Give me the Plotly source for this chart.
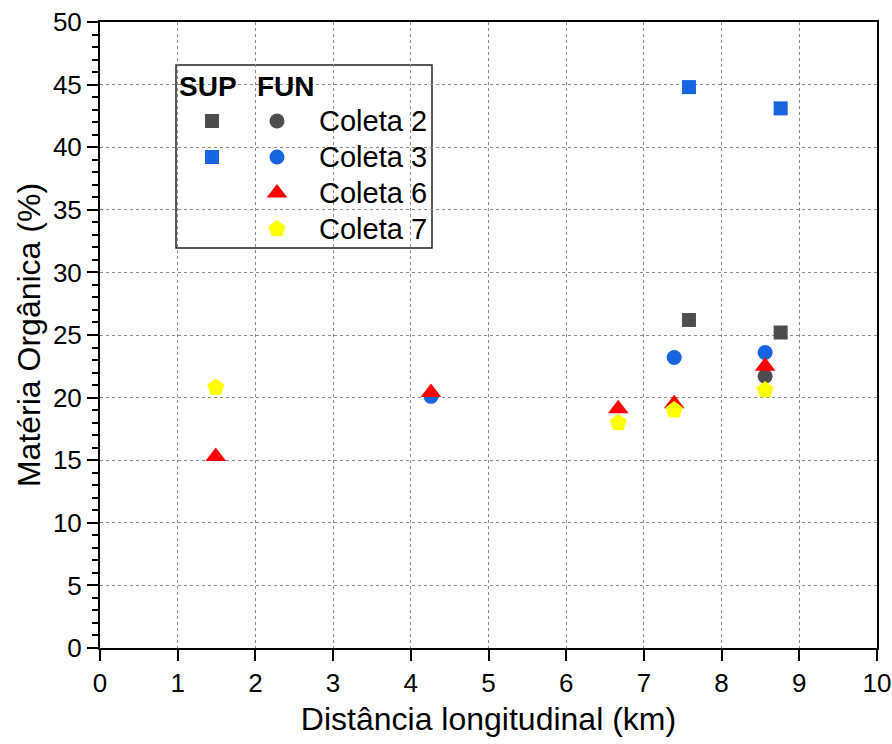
import plotly.graph_objects as go

# ---- data ----
sup2_x = [7.58, 8.76]
sup2_y = [26.2, 25.2]
sup3_x = [7.58, 8.76]
sup3_y = [44.8, 43.1]
fun2_x = [8.56]
fun2_y = [21.7]
fun3_x = [4.26, 7.39, 8.56]
fun3_y = [20.1, 23.2, 23.6]
fun6_x = [1.49, 4.26, 6.67, 7.39, 8.56]
fun6_y = [15.3, 20.4, 19.1, 19.5, 22.5]
fun7_x = [1.49, 6.67, 7.39, 8.56]
fun7_y = [20.8, 18.0, 19.0, 20.6]

legend_labels = ["Coleta 2", "Coleta 3", "Coleta 6", "Coleta 7"]

C_GRAY = "#4d4d4d"
C_BLUE = "#1565e0"
C_RED = "#ff0000"
C_YEL = "#ffff00"

FONT = "Liberation Sans, Arial, sans-serif"

fig = go.Figure()

def add(x, y, sym, col, size):
    fig.add_trace(go.Scatter(x=x, y=y, mode="markers",
                             marker=dict(symbol=sym, color=col, size=size, line=dict(width=0)),
                             showlegend=False, hoverinfo="x+y"))

add(sup2_x, sup2_y, "square", C_GRAY, 14)
add(sup3_x, sup3_y, "square", C_BLUE, 14)
add(fun2_x, fun2_y, "circle", C_GRAY, 15)
add(fun3_x, fun3_y, "circle", C_BLUE, 15)
add(fun6_x, fun6_y, "triangle-up", C_RED, 18)
add(fun7_x, fun7_y, "pentagon", C_YEL, 18)

# ---- custom legend (overlay axes spanning the plot area) ----
W0, W1, H0, H1 = 100, 877, 648, 22
def px(xp):
    return (xp - W0) / (W1 - W0)
def py(yp):
    return (H0 - yp) / (H0 - H1)

rows = [121, 157, 193, 229]
sq_x = 212
ci_x = 277
fig.add_trace(go.Scatter(x=[px(sq_x)] * 2, y=[py(rows[0]), py(rows[1])], mode="markers",
                         marker=dict(symbol="square", color=[C_GRAY, C_BLUE], size=14, line=dict(width=0)),
                         xaxis="x2", yaxis="y2", showlegend=False, hoverinfo="skip"))
fig.add_trace(go.Scatter(x=[px(ci_x)] * 2, y=[py(rows[0]), py(rows[1])], mode="markers",
                         marker=dict(symbol="circle", color=[C_GRAY, C_BLUE], size=15, line=dict(width=0)),
                         xaxis="x2", yaxis="y2", showlegend=False, hoverinfo="skip"))
fig.add_trace(go.Scatter(x=[px(ci_x)], y=[py(rows[2])], mode="markers",
                         marker=dict(symbol="triangle-up", color=C_RED, size=18, line=dict(width=0)),
                         xaxis="x2", yaxis="y2", showlegend=False, hoverinfo="skip"))
fig.add_trace(go.Scatter(x=[px(ci_x)], y=[py(rows[3])], mode="markers",
                         marker=dict(symbol="pentagon", color=C_YEL, size=18, line=dict(width=0)),
                         xaxis="x2", yaxis="y2", showlegend=False, hoverinfo="skip"))

fig.add_shape(type="rect", xref="x2", yref="y2", x0=px(176), x1=px(432), y0=py(248), y1=py(65),
              line=dict(color="#222222", width=1.5), fillcolor="white", layer="below")

for xx, t in [(208, "<b>SUP</b>"), (286, "<b>FUN</b>")]:
    fig.add_annotation(xref="x2", yref="y2", x=px(xx), y=py(86), text=t, showarrow=False,
                       xanchor="center", yanchor="middle", font=dict(family=FONT, size=28, color="black"))
for r, lab in zip(rows, legend_labels):
    fig.add_annotation(xref="x2", yref="y2", x=px(317), y=py(r), text=lab, showarrow=False,
                       xanchor="left", yanchor="middle", font=dict(family=FONT, size=29, color="black"))

fig.update_layout(
    width=892, height=744,
    margin=dict(l=100, r=15, t=22, b=96),
    paper_bgcolor="white", plot_bgcolor="white",
    font=dict(family=FONT, size=26, color="black"),
    xaxis=dict(range=[0, 10], dtick=1, tick0=0, showline=True, linecolor="black", linewidth=2,
               mirror=True, ticks="outside", ticklen=11, tickwidth=2, tickcolor="black",
               showgrid=True, gridcolor="#8a8a8a", griddash="dot", gridwidth=1, zeroline=False,
               tickfont=dict(size=26), automargin=False,
               title=dict(text="Distância longitudinal (km)", font=dict(size=32), standoff=10)),
    yaxis=dict(range=[0, 50], dtick=5, tick0=0, showline=True, linecolor="black", linewidth=2,
               mirror=True, ticks="outside", ticklen=11, tickwidth=2, tickcolor="black",
               minor=dict(dtick=1, ticks="outside", ticklen=6, tickwidth=2, tickcolor="black", showgrid=False),
               showgrid=True, gridcolor="#8a8a8a", griddash="dot", gridwidth=1, zeroline=False,
               tickfont=dict(size=26), automargin=False,
               title=dict(text="Matéria Orgânica (%)", font=dict(size=32), standoff=3)),
    xaxis2=dict(range=[0, 1], overlaying="x", visible=False, fixedrange=True),
    yaxis2=dict(range=[0, 1], overlaying="y", visible=False, fixedrange=True),
)

fig.write_html("out.html")
